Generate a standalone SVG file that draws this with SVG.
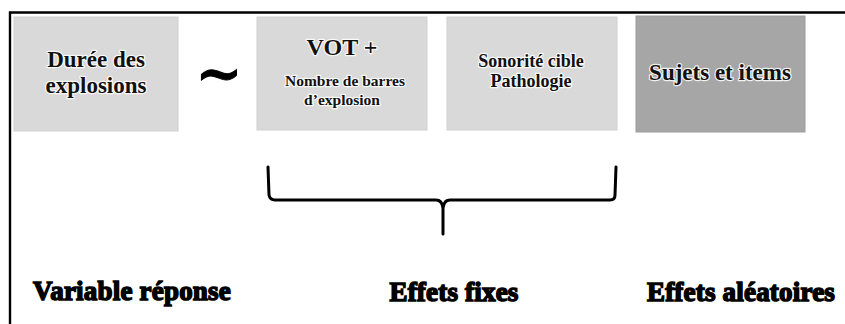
<svg xmlns="http://www.w3.org/2000/svg" width="845" height="324" viewBox="0 0 845 324">
<style>
.box{fill:#d9d9d9;stroke:#cfcfcf;stroke-width:1}
.dark{fill:#a6a6a6;stroke:#9c9c9c;stroke-width:1}
.t{font-family:"Liberation Serif","Times New Roman",serif;font-weight:bold;fill:#111;text-anchor:middle;stroke:#ffffff;stroke-width:2.5;stroke-opacity:0.85;paint-order:stroke;stroke-linejoin:round}
.lbl{font-family:"Liberation Serif","Times New Roman",serif;font-weight:bold;fill:#000;font-size:27px;text-anchor:middle;stroke:#000;stroke-width:1.5;letter-spacing:0.2px}
.frame{fill:none;stroke:#000;stroke-width:2.4}
.brace{fill:none;stroke:#000;stroke-width:3;stroke-linejoin:round;stroke-linecap:round}
</style>
<path class="frame" d="M10,324 V12.5 H845"/>
<g id="reponse">
<rect class="box" x="14" y="17" width="164" height="114"/>
<text class="t" font-size="23" x="96" y="67">Durée des</text>
<text class="t" font-size="23" x="96" y="93">explosions</text>
</g>
<g id="tilde">
<text x="219" y="93" font-family="'DejaVu Serif',serif" font-weight="bold" font-size="56" text-anchor="middle" fill="#000" stroke="#000" stroke-width="1">~</text>
</g>
<g id="vot">
<rect class="box" x="257" y="17" width="170" height="113"/>
<text class="t" font-size="24" x="342" y="55">VOT +</text>
<text class="t" font-size="15.5" x="345" y="86">Nombre de barres</text>
<text class="t" font-size="15.5" x="342" y="105">d’explosion</text>
</g>
<g id="sonorite">
<rect class="box" x="447" y="17" width="170" height="113"/>
<text class="t" font-size="18" x="531" y="67">Sonorité cible</text>
<text class="t" font-size="18" x="531" y="87">Pathologie</text>
</g>
<g id="sujets">
<rect class="dark" x="636" y="16" width="169" height="116"/>
<text class="t" font-size="23" x="720" y="80">Sujets et items</text>
</g>
<g id="connectors">
<path class="brace" d="M268,167 L269,195 Q270,200 275,200 L436,200 Q442,200 443,208 L443,234 M443,208 Q444,200 450,200 L610,200 Q615,200 615,195 L616,167"/>
</g>
<g id="labels">
<text class="lbl" x="132" y="300">Variable réponse</text>
<text class="lbl" x="454" y="301">Effets fixes</text>
<text class="lbl" x="741" y="301">Effets aléatoires</text>
</g>
</svg>
